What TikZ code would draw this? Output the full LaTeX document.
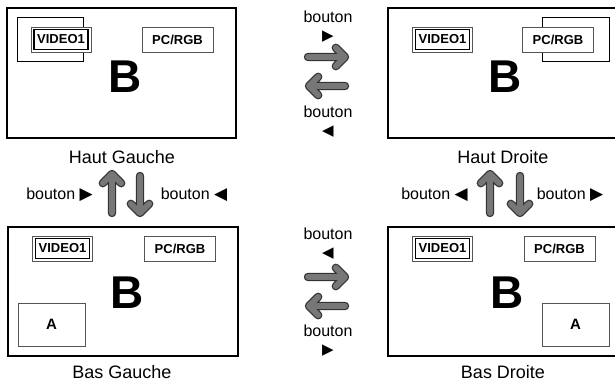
\documentclass[tikz,border=0pt]{standalone}
\usepackage{fontspec}
\setmainfont{Liberation Sans}
\newfontfamily\symfont{DejaVu Sans}
\usetikzlibrary{calc}
\definecolor{arrgray}{HTML}{777777}
\definecolor{arrline}{HTML}{333333}
\definecolor{boxgray}{HTML}{555555}
\newcommand{\trir}{{\symfont\fontsize{15}{15}\selectfont ▶}}
\newcommand{\tril}{{\symfont\fontsize{15}{15}\selectfont ◀}}
\newcommand{\trirb}{{\symfont\fontsize{17}{17}\selectfont ▶}}
\newcommand{\trilb}{{\symfont\fontsize{17}{17}\selectfont ◀}}
\tikzset{
  screen/.style={draw=black, line width=1.4pt},
  overlay/.style={draw=black, line width=0.9pt},
  tagouter/.style={draw=boxgray, line width=0.9pt, fill=white, minimum width=60pt, minimum height=25pt, inner sep=0pt},
  taginner/.style={draw=black, line width=1.8pt, fill=white, minimum width=54pt, minimum height=20pt, inner sep=0pt, font=\bfseries\fontsize{13}{14}\selectfont},
  pcbox/.style={draw=boxgray, line width=0.9pt, fill=white, minimum width=71pt, minimum height=25pt, inner sep=0pt, font=\bfseries\fontsize{13}{14}\selectfont},
  abox/.style={draw=boxgray, line width=0.9pt, fill=white, minimum width=67pt, minimum height=43pt, inner sep=0pt, font=\bfseries\fontsize{15}{16}\selectfont},
  bigb/.style={inner sep=0pt, font=\bfseries\fontsize{46}{47}\selectfont},
  caption/.style={inner sep=0pt, font=\fontsize{18}{20}\selectfont},
  btn/.style={inner sep=0pt, font=\fontsize{16}{18}\selectfont},
  btnstack/.style={inner sep=0pt, anchor=north, align=center, font=\fontsize{16}{17.5}\selectfont},
  fat/.style={draw=arrline, line width=1.3pt, double=arrgray, double distance=5.8pt, line cap=round, line join=round},
}
\newcommand{\fatarrow}[2]{%
  \draw[fat] (#1) -- (#2) ($(#2)!13pt!45:(#1)$) -- (#2) -- ($(#2)!13pt!-45:(#1)$);}
\begin{document}
\begin{tikzpicture}[x=1pt,y=-1pt]
\useasboundingbox (0,0) rectangle (615,381);
\begin{scope}
\clip (0,0) rectangle (615,381);
% ---------- Haut Gauche ----------
\draw[screen] (7,8) rectangle (236,138);
\draw[overlay] (17,17) rectangle (83,61);
\node[tagouter] (tlvo) at (61,39.5) {};
\node[taginner] (tlv) at (tlvo) {VIDEO1};
\node[pcbox] (tlp) at (177.5,39.5) {PC/RGB};
\node[bigb] (tlb) at (125,77) {B};
\node[caption] (tlc) at (122,157) {Haut Gauche};
% ---------- Haut Droite ----------
\draw[screen] (388,8) rectangle (625,138);
\draw[overlay] (542,17) rectangle (609,61);
\node[tagouter] (trvo) at (442.5,39.5) {};
\node[taginner] (trv) at (trvo) {VIDEO1};
\node[pcbox] (trp) at (558,39.5) {PC/RGB};
\node[bigb] (trb) at (505,77) {B};
\node[caption] (trc) at (503,157) {Haut Droite};
% ---------- Bas Gauche ----------
\draw[screen] (8,227) rectangle (238,356);
\node[tagouter] (blvo) at (62.5,248.5) {};
\node[taginner] (blv) at (blvo) {VIDEO1};
\node[pcbox] (blp) at (180,248.5) {PC/RGB};
\node[abox] (bla) at (51.5,324.5) {A};
\node[bigb] (blb) at (127,293) {B};
\node[caption] (blc) at (122,372) {Bas Gauche};
% ---------- Bas Droite ----------
\draw[screen] (388,227) rectangle (625,356);
\node[tagouter] (brvo) at (442.5,248.5) {};
\node[taginner] (brv) at (brvo) {VIDEO1};
\node[pcbox] (brp) at (559.5,248.5) {PC/RGB};
\node[abox] (bra) at (575.5,324.5) {A};
\node[bigb] (brb) at (507,293) {B};
\node[caption] (brc) at (503,372) {Bas Droite};
\end{scope}
% ---------- top middle ----------
\node[btnstack] (t1) at (328,10.8) {bouton\\\trir};
\coordinate (ra1) at (308,57); \coordinate (ra2) at (345,57);
\coordinate (la1) at (345,86); \coordinate (la2) at (309,86);
\fatarrow{ra1}{ra2}
\fatarrow{la1}{la2}
\node[btnstack] (t2) at (328,105.8) {bouton\\\tril};
% ---------- bottom middle ----------
\node[btnstack] (b1) at (328,227.8) {bouton\\\tril};
\coordinate (rb1) at (308,277); \coordinate (rb2) at (345,277);
\coordinate (lb1) at (345,306); \coordinate (lb2) at (309,306);
\fatarrow{rb1}{rb2}
\fatarrow{lb1}{lb2}
\node[btnstack] (b2) at (328,324.8) {bouton\\\trir};
% ---------- left vertical ----------
\node[btn, anchor=base] (lv1) at (59.5,199) {bouton \trirb};
\coordinate (lu1) at (112,213); \coordinate (lu2) at (112,174);
\coordinate (ld1) at (140,176); \coordinate (ld2) at (140,213);
\fatarrow{lu1}{lu2}
\fatarrow{ld1}{ld2}
\node[btn, anchor=base] (lv2) at (194,199) {bouton \trilb};
% ---------- right vertical ----------
\node[btn, anchor=base] (rv1) at (434.5,199) {bouton \trilb};
\coordinate (ru1) at (490,213); \coordinate (ru2) at (490,174);
\coordinate (rd1) at (520,176); \coordinate (rd2) at (520,213);
\fatarrow{ru1}{ru2}
\fatarrow{rd1}{rd2}
\node[btn, anchor=base] (rv2) at (570,199) {bouton \trirb};
\end{tikzpicture}
\end{document}
